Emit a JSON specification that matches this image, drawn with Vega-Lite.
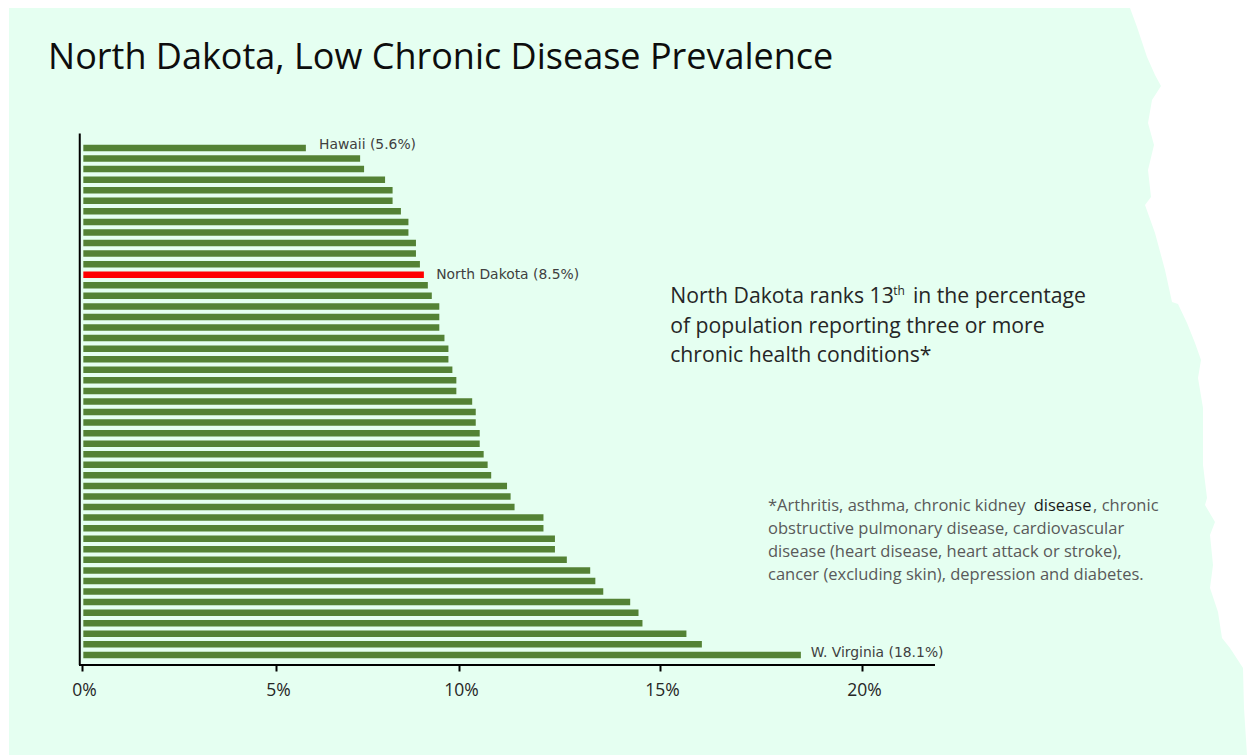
{"$schema":"https://vega.github.io/schema/vega-lite/v6.json","width":1247,"height":755,"padding":0,"autosize":{"type":"fit","contains":"padding"},"background":"#ffffff","config":{"view":{"stroke":null},"font":"Open Sans"},
"resolve":{"scale":{"x":"independent","y":"independent"},"axis":{"x":"independent","y":"independent"}},
"layer":[
{"data":{"values":[{"map_x":1130,"map_y":8},{"map_x":1137,"map_y":27},{"map_x":1147,"map_y":57},{"map_x":1155,"map_y":75},{"map_x":1161,"map_y":86},{"map_x":1152,"map_y":100},{"map_x":1148,"map_y":123},{"map_x":1154,"map_y":145},{"map_x":1148,"map_y":170},{"map_x":1151,"map_y":197},{"map_x":1145,"map_y":205},{"map_x":1155,"map_y":233},{"map_x":1165,"map_y":270},{"map_x":1172,"map_y":302},{"map_x":1178,"map_y":304},{"map_x":1187,"map_y":323},{"map_x":1195,"map_y":343},{"map_x":1201,"map_y":360},{"map_x":1198,"map_y":378},{"map_x":1203,"map_y":408},{"map_x":1203,"map_y":465},{"map_x":1207,"map_y":498},{"map_x":1205,"map_y":505},{"map_x":1215,"map_y":522},{"map_x":1210,"map_y":535},{"map_x":1213,"map_y":565},{"map_x":1210,"map_y":588},{"map_x":1218,"map_y":612},{"map_x":1222,"map_y":638},{"map_x":1230,"map_y":648},{"map_x":1243,"map_y":668},{"map_x":1244,"map_y":708},{"map_x":1247,"map_y":755}]},
"mark":{"type":"area","orient":"horizontal","color":"#e5fff1","interpolate":"linear"},
"encoding":{"x":{"field":"map_x","type":"quantitative","scale":{"domain":[0,1247],"nice":false,"zero":false},"axis":null},"x2":{"datum":9},"y":{"field":"map_y","type":"quantitative","scale":{"domain":[755,0],"nice":false,"zero":false},"axis":null}}},
{"data":{"values":[{"from":-0.08,"to":21.83,"rank":49.96}]},
"mark":{"type":"rule","color":"#000000","strokeWidth":2},
"encoding":{"x":{"field":"from","type":"quantitative","scale":{"domain":[-0.08,0,5,10,15,20,21.83],"range":[79,82,276,459,660,862,935],"nice":false,"zero":false},"axis":{"orient":"bottom","offset":-90,"zindex":1,"title":null,"values":[0,5,10,15,20],"labelExpr":"datum.value + '%'","domain":false,"grid":false,"ticks":true,"tickColor":"#000000","tickWidth":2,"tickSize":6,"labelFontSize":17.5,"labelColor":"#262626","labelPadding":10,"labelFont":"Open Sans","labelOffset":2}},"x2":{"field":"to"},"y":{"field":"rank","type":"quantitative","scale":{"domain":[-13.015,58.48],"reverse":true,"nice":false,"zero":false,"padding":0},"axis":null}}},
{"resolve":{"scale":{"x":"shared","y":"shared"}},
"encoding":{"x":{"field":"pct","type":"quantitative","scale":{"domain":[-2.104,29.386],"nice":false,"zero":false,"padding":0},"axis":null},"y":{"field":"rank","type":"quantitative","scale":{"domain":[-13.015,58.48],"reverse":true,"nice":false,"zero":false,"padding":0},"axis":null}},
"layer":[
{"data":{"values":[{"pct":-0.09,"rank":-0.38,"rank_end":49.96}]},"mark":{"type":"rule","color":"#000000","strokeWidth":2},"encoding":{"y2":{"field":"rank_end"}}},
{"data":{"values":[{"rank":1,"pct":5.62,"group":"Other"},{"rank":2,"pct":6.99,"group":"Other"},{"rank":3,"pct":7.09,"group":"Other"},{"rank":4,"pct":7.62,"group":"Other"},{"rank":5,"pct":7.81,"group":"Other"},{"rank":6,"pct":7.81,"group":"Other"},{"rank":7,"pct":8.02,"group":"Other"},{"rank":8,"pct":8.21,"group":"Other"},{"rank":9,"pct":8.21,"group":"Other"},{"rank":10,"pct":8.4,"group":"Other"},{"rank":11,"pct":8.4,"group":"Other"},{"rank":12,"pct":8.5,"group":"Other"},{"rank":13,"pct":8.6,"group":"North Dakota"},{"rank":14,"pct":8.7,"group":"Other"},{"rank":15,"pct":8.8,"group":"Other"},{"rank":16,"pct":8.99,"group":"Other"},{"rank":17,"pct":8.99,"group":"Other"},{"rank":18,"pct":8.99,"group":"Other"},{"rank":19,"pct":9.12,"group":"Other"},{"rank":20,"pct":9.22,"group":"Other"},{"rank":21,"pct":9.22,"group":"Other"},{"rank":22,"pct":9.32,"group":"Other"},{"rank":23,"pct":9.42,"group":"Other"},{"rank":24,"pct":9.42,"group":"Other"},{"rank":25,"pct":9.82,"group":"Other"},{"rank":26,"pct":9.91,"group":"Other"},{"rank":27,"pct":9.91,"group":"Other"},{"rank":28,"pct":10.01,"group":"Other"},{"rank":29,"pct":10.01,"group":"Other"},{"rank":30,"pct":10.11,"group":"Other"},{"rank":31,"pct":10.21,"group":"Other"},{"rank":32,"pct":10.3,"group":"Other"},{"rank":33,"pct":10.7,"group":"Other"},{"rank":34,"pct":10.79,"group":"Other"},{"rank":35,"pct":10.89,"group":"Other"},{"rank":36,"pct":11.62,"group":"Other"},{"rank":37,"pct":11.62,"group":"Other"},{"rank":38,"pct":11.91,"group":"Other"},{"rank":39,"pct":11.91,"group":"Other"},{"rank":40,"pct":12.21,"group":"Other"},{"rank":41,"pct":12.8,"group":"Other"},{"rank":42,"pct":12.93,"group":"Other"},{"rank":43,"pct":13.13,"group":"Other"},{"rank":44,"pct":13.81,"group":"Other"},{"rank":45,"pct":14.02,"group":"Other"},{"rank":46,"pct":14.12,"group":"Other"},{"rank":47,"pct":15.23,"group":"Other"},{"rank":48,"pct":15.62,"group":"Other"},{"rank":49,"pct":18.12,"group":"Other"}]},
"mark":{"type":"bar","orient":"horizontal","size":6.5},
"encoding":{"x":{"field":"pct","type":"quantitative","stack":null,"scale":{"domain":[-2.104,29.386],"nice":false,"zero":false,"padding":0},"axis":null},"color":{"field":"group","type":"nominal","scale":{"domain":["Other","North Dakota"],"range":["#548235","#ff0000"]},"legend":null}}},
{"data":{"values":[{"note":"Hawaii (5.6%)","pct":5.95,"rank":0.72},{"note":"North Dakota (8.5%)","pct":8.91,"rank":13.03},{"note":"W. Virginia (18.1%)","pct":18.37,"rank":48.82}]},
"mark":{"type":"text","align":"left","baseline":"middle","fontSize":13.9,"color":"#404040","font":"DejaVu Sans"},"encoding":{"text":{"field":"note"}}},
{"data":{"values":[{"note":"North Dakota, Low Chronic Disease Prevalence","pct":-0.89,"rank":-7.52}]},
"mark":{"type":"text","align":"left","baseline":"middle","fontSize":36,"color":"#0d0d0d","font":"Open Sans"},"encoding":{"text":{"field":"note"}}},
{"data":{"values":[{"note":"North Dakota ranks 13","pct":14.82,"rank":15.11},{"note":"in the percentage","pct":20.95,"rank":15.11},{"note":"of population reporting three or more","pct":14.82,"rank":17.95},{"note":"chronic health conditions*","pct":14.82,"rank":20.7}]},
"mark":{"type":"text","align":"left","baseline":"middle","fontSize":21.2,"color":"#262626","font":"Open Sans"},"encoding":{"text":{"field":"note"}}},
{"data":{"values":[{"note":"th","pct":20.45,"rank":14.54}]},
"mark":{"type":"text","align":"left","baseline":"middle","fontSize":12,"color":"#262626","font":"Open Sans"},"encoding":{"text":{"field":"note"}}},
{"data":{"values":[{"note":"*Arthritis, asthma, chronic kidney","pct":17.29,"rank":34.9},{"note":", chronic","pct":25.5,"rank":34.9},{"note":"obstructive pulmonary disease, cardiovascular","pct":17.29,"rank":37.09},{"note":"disease (heart disease, heart attack or stroke),","pct":17.29,"rank":39.27},{"note":"cancer (excluding skin), depression and diabetes.","pct":17.29,"rank":41.44}]},
"mark":{"type":"text","align":"left","baseline":"middle","fontSize":16.5,"color":"#595959","font":"Open Sans"},"encoding":{"text":{"field":"note"}}},
{"data":{"values":[{"note":"disease","pct":24.0,"rank":34.9}]},
"mark":{"type":"text","align":"left","baseline":"middle","fontSize":16.5,"color":"#1a1a1a","font":"Open Sans"},"encoding":{"text":{"field":"note"}}}
]}
]}
